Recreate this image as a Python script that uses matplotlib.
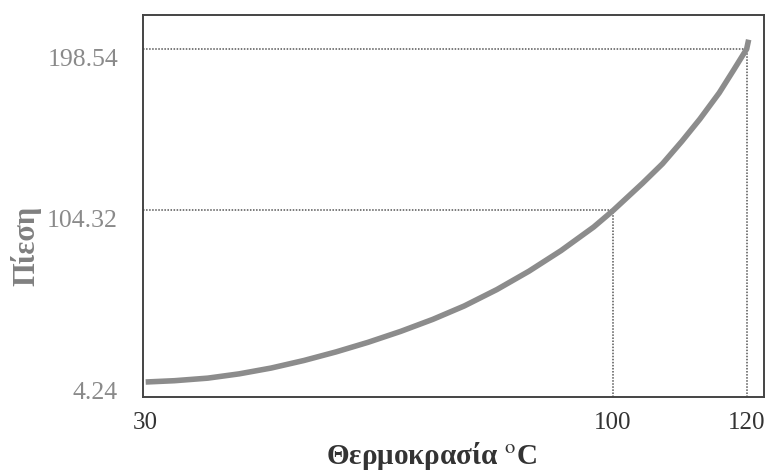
import numpy as np
import matplotlib
matplotlib.use('Agg')
import matplotlib.pyplot as plt
import matplotlib.transforms as mtransforms

# curve (temperature in C, pressure)
temp = [30, 34.3, 39.3, 44.0, 48.8, 53.7, 58.5, 63.3, 68.2, 73.0, 77.7, 82.6,
        87.4, 92.2, 97.1, 100, 104.4, 107.4, 110.3, 113.0, 115.9, 118.1, 120, 120.3]
pres = [4.24, 5.0, 6.5, 9.0, 12.4, 16.8, 21.8, 27.4, 33.8, 40.8, 48.6, 58.2,
        68.9, 80.9, 94.7, 104.32, 120.2, 131.6, 144.7, 157.7, 173.0, 186.6, 198.54, 204.0]

# marked points
mark_t = [100, 120]
mark_p = [104.32, 198.54]

xticks = [30, 100, 120]
yticks = [4.24, 104.32, 198.54]
ytick_labels = ['4.24', '104.32', '198.54']

plt.rcParams['font.family'] = ['Liberation Serif', 'DejaVu Serif']
plt.rcParams['mathtext.fontset'] = 'stix'

fig = plt.figure(figsize=(7.66, 4.73), dpi=100)
ax = fig.add_axes([0.1867, 0.1607, 0.8107, 0.8076])

xmin, xmax = 29.6, 122.6
ymin, ymax = -4.5, 218.4

# dotted guide lines
for t, p in zip(mark_t, mark_p):
    ax.plot([xmin, t], [p, p], color='#555555', lw=1.1, ls=(0, (1, 1)))
    ax.plot([t, t], [ymin, p], color='#555555', lw=1.1, ls=(0, (1, 1)))

ax.plot(temp, pres, color='#8c8c8c', lw=4.0, solid_capstyle='butt',
        solid_joinstyle='round')

ax.set_xlim(xmin, xmax)
ax.set_ylim(ymin, ymax)

ax.set_xticks(xticks)
ax.set_xticklabels([str(t) for t in xticks])
ax.set_yticks(yticks)
ax.set_yticklabels(ytick_labels)
ax.tick_params(axis='both', length=0)
ax.tick_params(axis='x', labelsize=18, labelcolor='#333333', pad=11)
ax.tick_params(axis='y', labelsize=18.5, labelcolor='#8a8a8a', pad=18)

# y labels sit a bit below their lines in the original
offset = mtransforms.ScaledTranslation(0, -8 / 100., fig.dpi_scale_trans)
for lab in ax.get_yticklabels():
    lab.set_transform(lab.get_transform() + offset)

for sp in ax.spines.values():
    sp.set_color('#444444')
    sp.set_linewidth(1.4)

ax.set_xlabel('Θερμοκρασία $^{\\mathrm{o}}$C', fontsize=21, fontweight='bold',
              color='#333333')
ax.xaxis.set_label_coords(0.465, -0.113)
ax.set_ylabel('Πίεση', fontsize=22, fontweight='bold', color='#808080')
ax.yaxis.set_label_coords(-0.163, 0.395)

fig.savefig('out.png', dpi=100)
